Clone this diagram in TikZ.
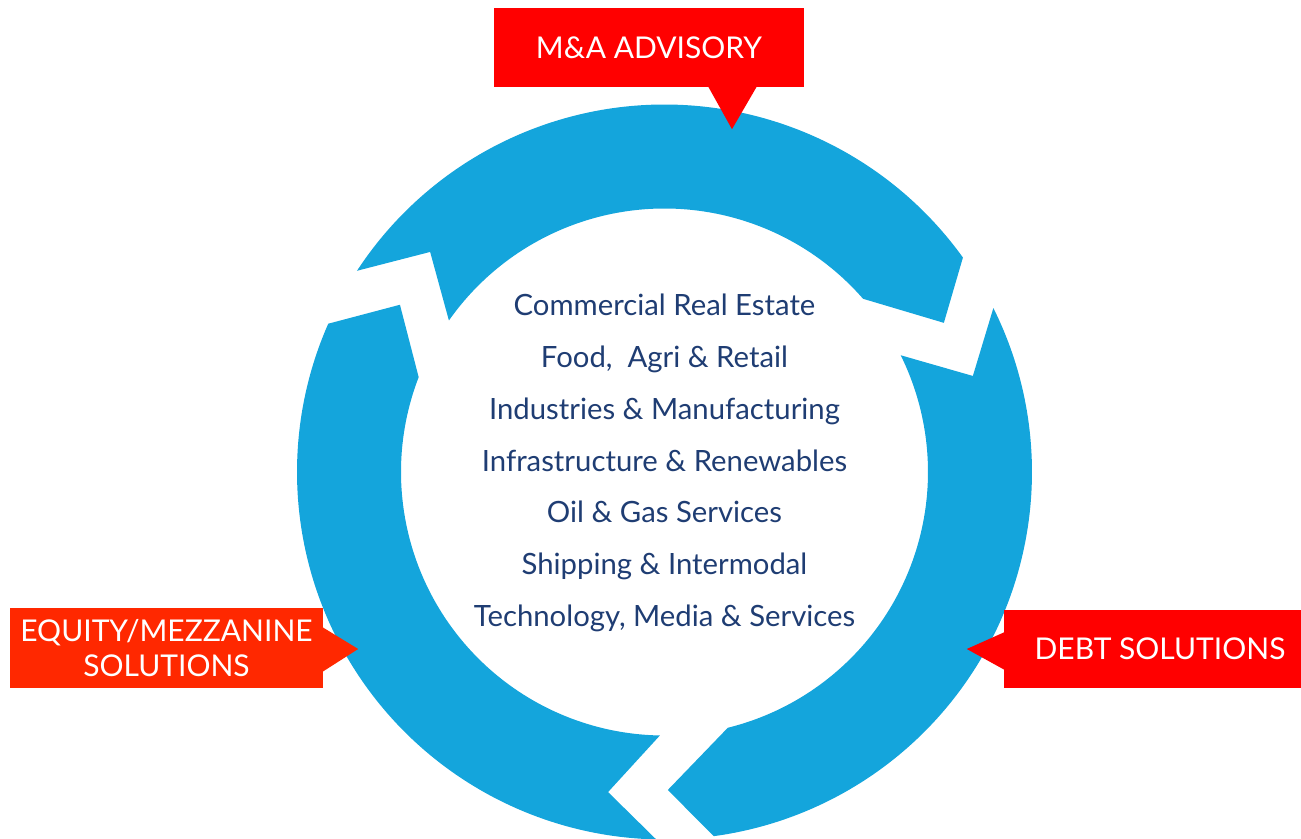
\documentclass[tikz,border=0pt]{standalone}
\usepackage{fontspec}
\setmainfont{Lato}
\usetikzlibrary{calc}

\definecolor{ringblue}{RGB}{20,165,220}
\definecolor{callred}{RGB}{255,0,0}
\definecolor{callorange}{RGB}{255,40,0}
\definecolor{sectornavy}{RGB}{31,61,115}

\tikzset{
  callout/.style={fill=callred, text=white, inner sep=0pt,
    font=\fontsize{30}{35}\selectfont},
  sector/.style={text=sectornavy, anchor=base, inner sep=0pt,
    font=\fontsize{29.3}{34}\selectfont},
}

\begin{document}
\begin{tikzpicture}[x=1pt,y=1pt]
  \useasboundingbox (-664.5,-366) rectangle (636.5,472);

  %% The three arrows of the ring
  \foreach \ao/\ai/\an/\rn/\bo/\bi/\bt/\rt in
    {146.8/144.9/136.8/321.5/35.7/41.1/28.1/316.7,
     26.5/26.3/17.3/323/-82.3/-76.1/-89.4/318,
     -91.3/-91.0/-100/325/-203.8/-201.1/-212.3/313}
  {
    \fill[ringblue] (\ao:367.5pt) arc[start angle=\ao, end angle=\bo, radius=367.5pt]
      -- (\bt:\rt pt) -- (\bi:263.5pt)
      arc[start angle=\bi, end angle=\ai, radius=263.5pt]
      -- (\an:\rn pt) -- cycle;
  }

  %% Sectors in the middle
  \foreach \sec [count=\i] in {Commercial Real Estate, {Food,\ \ Agri \& Retail},
    Industries \& Manufacturing, Infrastructure \& Renewables,
    Oil \& Gas Services, Shipping \& Intermodal, {Technology, Media \& Services}}
  {
    \node[sector] (sec\i) at (0,{156-51.67*(\i-1)}) {\sec};
  }

  %% Callouts
  \node[callout, minimum width=310pt, minimum height=79pt] (ma) at (-15.5,424.5)
    {M\&A ADVISORY};
  \fill[callred] ($(ma.south)+(59,1)$) -- ($(ma.south)+(83,-42)$)
    -- ($(ma.south)+(108,1)$) -- cycle;

  \node[callout, fill=callorange, minimum width=313pt, minimum height=80pt,
    align=center] (eq) at (-498,-176) {EQUITY/MEZZANINE\\SOLUTIONS};
  \fill[callorange] ($(eq.east)+(-1,21)$) -- ($(eq.east)+(35,-1)$)
    -- ($(eq.east)+(-1,-24)$) -- cycle;

  \node[callout, minimum width=312pt, minimum height=78pt] (debt) at (495.5,-177)
    {DEBT SOLUTIONS};
  \fill[callred] ($(debt.west)+(1,17)$) -- ($(debt.west)+(-37,0)$)
    -- ($(debt.west)+(1,-21)$) -- cycle;
\end{tikzpicture}
\end{document}
